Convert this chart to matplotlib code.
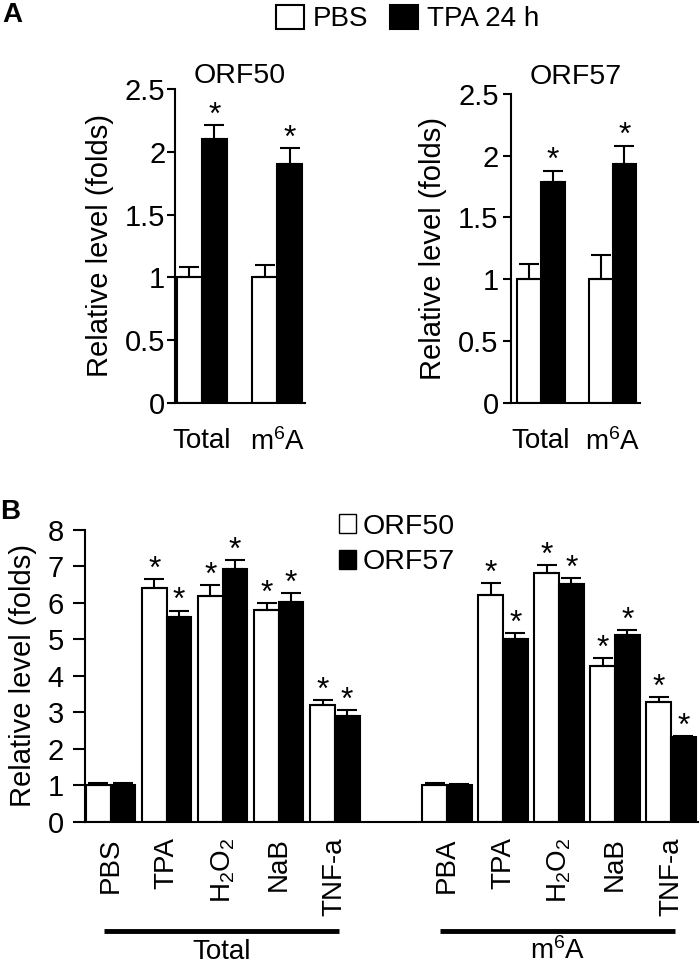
import numpy as np
import matplotlib
matplotlib.use("Agg")
import matplotlib.pyplot as plt
from matplotlib.patches import Patch

plt.rcParams["font.family"] = ["Liberation Sans", "DejaVu Sans"]
plt.rcParams["mathtext.fontset"] = "custom"
plt.rcParams["mathtext.rm"] = "Liberation Sans"
plt.rcParams["mathtext.it"] = "Liberation Sans"
plt.rcParams["axes.linewidth"] = 1.5

# Panel A data
a_groups = ["Total", "m$^6$A"]
orf50_pbs = [1.0, 1.0]
orf50_pbs_err = [0.08, 0.10]
orf50_tpa = [2.10, 1.90]
orf50_tpa_err = [0.11, 0.13]
orf57_pbs = [1.0, 1.0]
orf57_pbs_err = [0.12, 0.20]
orf57_tpa = [1.79, 1.93]
orf57_tpa_err = [0.09, 0.15]
a_ticks = [0, 0.5, 1, 1.5, 2, 2.5]
a_tick_labels = ["0", "0.5", "1", "1.5", "2", "2.5"]

# Panel B data
b_treatments = ["PBS", "TPA", "H$_2$O$_2$", "NaB", "TNF-a",
                "PBA", "TPA", "H$_2$O$_2$", "NaB", "TNF-a"]
b_pos = [0, 1, 2, 3, 4, 6, 7, 8, 9, 10]
b_orf50 = [1.0, 6.41, 6.19, 5.81, 3.20, 1.0, 6.22, 6.81, 4.27, 3.29]
b_orf50_err = [0.08, 0.25, 0.30, 0.19, 0.14, 0.07, 0.32, 0.23, 0.22, 0.13]
b_orf57 = [1.0, 5.62, 6.93, 6.02, 2.90, 1.01, 5.01, 6.52, 5.12, 2.33]
b_orf57_err = [0.08, 0.17, 0.25, 0.25, 0.17, 0.02, 0.16, 0.16, 0.14, 0.03]
b_orf50_star = [False, True, True, True, True, False, True, True, True, True]
b_orf57_star = [False, True, True, True, True, False, True, True, True, True]
b_sections = ["Total", "m$^6$A"]
b_section_idx = [[0, 4], [5, 9]]

FS = 21


def style_axis(ax, tick_len, tick_pad):
    ax.spines["top"].set_visible(False)
    ax.spines["right"].set_visible(False)
    ax.tick_params(axis="y", direction="out", length=tick_len, width=1.5,
                   labelsize=FS, pad=tick_pad)
    ax.tick_params(axis="x", length=0)


def add_stars(ax, xs, tops, flags, size):
    for x, t, f in zip(xs, tops, flags):
        if f:
            ax.annotate("*", (x, t), xytext=(0, -4), textcoords="offset points",
                        ha="center", va="bottom", fontsize=size)


def draw_pair_panel(ax, title, pbs, pbs_err, tpa, tpa_err, xlim, title_pad, tick_pad):
    x = np.arange(len(a_groups))
    w = 0.33
    ax.bar(x - w / 2, pbs, w, color="white", edgecolor="black", linewidth=1.5,
           yerr=[[0] * len(pbs), pbs_err], capsize=7,
           error_kw=dict(elinewidth=1.5, capthick=1.5))
    ax.bar(x + w / 2, tpa, w, color="black", edgecolor="black", linewidth=1.5,
           yerr=[[0] * len(tpa), tpa_err], capsize=7,
           error_kw=dict(elinewidth=1.5, capthick=1.5))
    add_stars(ax, x + w / 2, np.array(tpa) + np.array(tpa_err), [True] * len(tpa), 23)
    ax.set_ylim(0, 2.5)
    ax.set_xlim(*xlim)
    ax.set_yticks(a_ticks)
    ax.set_yticklabels(a_tick_labels)
    ax.set_xticks(x)
    ax.set_xticklabels(a_groups, fontsize=20)
    ax.set_ylabel("Relative level (folds)", fontsize=FS, labelpad=8)
    ax.set_title(title, fontsize=20.5, pad=title_pad)
    style_axis(ax, 6, tick_pad)
    ax.tick_params(axis="x", pad=18)


fig = plt.figure(figsize=(7, 9.73), dpi=100)

ax1 = fig.add_axes([0.25, 0.586, 0.186, 0.3225])
draw_pair_panel(ax1, "ORF50", orf50_pbs, orf50_pbs_err, orf50_tpa, orf50_tpa_err,
                (-0.355, 1.37), 4, 1)

ax2 = fig.add_axes([0.73, 0.586, 0.184, 0.3175])
draw_pair_panel(ax2, "ORF57", orf57_pbs, orf57_pbs_err, orf57_tpa, orf57_tpa_err,
                (-0.42, 1.38), 7, 3)

fig.legend(handles=[Patch(facecolor="white", edgecolor="black", linewidth=1.5, label="PBS"),
                    Patch(facecolor="black", edgecolor="black", linewidth=1.5, label="TPA 24 h")],
           loc="upper left", bbox_to_anchor=(0.394, 0.995), ncol=2, frameon=False,
           fontsize=20, handlelength=1.0, handleheight=0.95, handletextpad=0.33,
           columnspacing=0.8, borderaxespad=0, borderpad=0)

# Panel B
ax3 = fig.add_axes([0.121, 0.1552, 0.876, 0.3001])
bx = np.array(b_pos, dtype=float)
w = 0.44
ax3.bar(bx - w / 2, b_orf50, w, color="white", edgecolor="black", linewidth=1.5,
        yerr=[[0] * len(b_orf50), b_orf50_err], capsize=7,
        error_kw=dict(elinewidth=1.5, capthick=1.5))
ax3.bar(bx + w / 2, b_orf57, w, color="black", edgecolor="black", linewidth=1.5,
        yerr=[[0] * len(b_orf57), b_orf57_err], capsize=7,
        error_kw=dict(elinewidth=1.5, capthick=1.5))
add_stars(ax3, bx - w / 2, np.array(b_orf50) + np.array(b_orf50_err), b_orf50_star, 23)
add_stars(ax3, bx + w / 2, np.array(b_orf57) + np.array(b_orf57_err), b_orf57_star, 23)
ax3.set_ylim(0, 8)
ax3.set_yticks(range(0, 9))
ax3.set_xlim(-0.465, 10.48)
ax3.set_xticks(bx)
ax3.set_xticklabels(b_treatments, rotation=90, fontsize=20)
ax3.set_ylabel("Relative level (folds)", fontsize=FS, labelpad=8)
style_axis(ax3, 9, 6)
ax3.tick_params(axis="x", pad=11)

trans = ax3.get_xaxis_transform()
for name, (i0, i1) in zip(b_sections, b_section_idx):
    x0 = bx[i0] - 0.12
    x1 = bx[i1] + 0.07
    ax3.plot([x0, x1], [-0.375, -0.375], color="black", linewidth=3.5,
             transform=trans, clip_on=False, solid_capstyle="butt")
    ax3.text((x0 + x1) / 2, -0.47, name, transform=trans, ha="center", va="baseline",
             fontsize=20)

fig.legend(handles=[Patch(facecolor="white", edgecolor="black", linewidth=1.0, label="ORF50"),
                    Patch(facecolor="black", edgecolor="black", linewidth=1.0, label="ORF57")],
           loc="upper left", bbox_to_anchor=(0.484, 0.472), ncol=1, frameon=False,
           fontsize=20.5, handlelength=0.6, handleheight=0.65, handletextpad=0.25,
           labelspacing=0.33, borderaxespad=0, borderpad=0)

fig.text(0.003, 0.998, "A", fontsize=20, fontweight="bold", ha="left", va="top")
fig.text(0.0, 0.487, "B", fontsize=20, fontweight="bold", ha="left", va="top")

fig.savefig("out.png", dpi=100)
